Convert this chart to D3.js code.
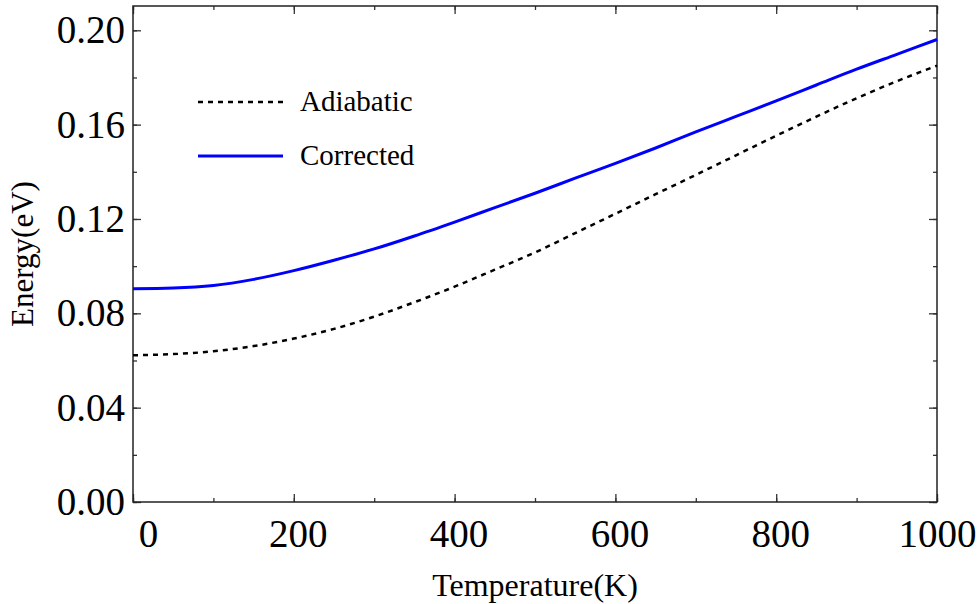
<!DOCTYPE html>
<meta charset="utf-8">
<head>
<script src="https://d3js.org/d3.v7.min.js"></script>
<style>
  body { margin: 0; background: #fff; }
  text { font-family: "Liberation Serif", "Times New Roman", serif; fill: #000; }
</style>
</head>
<body>
<div id="chart"></div>
<script>
// data
var temps = [0, 50, 100, 150, 200, 250, 300, 350, 400, 450, 500,
             550, 600, 650, 700, 750, 800, 850, 900, 950, 1000];
var adiabatic = [0.0622, 0.0627, 0.0639, 0.0661, 0.0693, 0.0734, 0.0786, 0.0847, 0.0913, 0.0985, 0.1058,
                 0.1140, 0.1222, 0.1305, 0.1387, 0.1470, 0.1553, 0.1634, 0.1712, 0.1784, 0.1850];
var corrected = [0.0904, 0.0907, 0.0918, 0.0944, 0.0981, 0.1025, 0.1073, 0.1128, 0.1187, 0.1248, 0.1309,
                 0.1373, 0.1436, 0.1501, 0.1569, 0.1635, 0.1701, 0.1768, 0.1835, 0.1898, 0.1961];
var xTicks = [0, 200, 400, 600, 800, 1000];
var yTicks = [0.00, 0.04, 0.08, 0.12, 0.16, 0.20];

var margin = {top: 6, right: 42, bottom: 102, left: 133},
    width = 979 - margin.left - margin.right,
    height = 604 - margin.top - margin.bottom;

var svg = d3.select("#chart")
  .append("svg")
    .attr("width", 979)
    .attr("height", 604)
  .append("g")
    .attr("transform", "translate(" + margin.left + "," + margin.top + ")");

var x = d3.scaleLinear().domain([0, 1000]).range([0, width]);
var y = d3.scaleLinear().domain([0, 0.2103]).range([height, 0]);

// minor ticks every 100 K / 0.02 eV
var xMinor = d3.range(0, 1001, 100);
var yMinor = d3.range(0, 0.21, 0.02);

function tickStyle(g) {
  g.select(".domain").remove();
  g.selectAll("line").attr("stroke", "#333").attr("stroke-width", 1.3);
}

// bottom
svg.append("g")
  .attr("transform", "translate(0," + height + ")")
  .call(d3.axisBottom(x).tickValues(xMinor).tickSize(-4).tickFormat(""))
  .call(tickStyle);
svg.append("g")
  .attr("transform", "translate(0," + height + ")")
  .call(d3.axisBottom(x).tickValues(xTicks).tickSize(-8).tickPadding(17).tickFormat(d3.format("d")))
  .call(tickStyle)
  .selectAll("text")
    .style("font-size", "39px")
    .attr("x", function(d) { return d === 0 ? 15 : (d === 1000 ? 0 : 4); });
// top
svg.append("g")
  .call(d3.axisTop(x).tickValues(xMinor).tickSize(-4).tickFormat(""))
  .call(tickStyle);
svg.append("g")
  .call(d3.axisTop(x).tickValues(xTicks).tickSize(-8).tickFormat(""))
  .call(tickStyle);
// left
svg.append("g")
  .call(d3.axisLeft(y).tickValues(yMinor).tickSize(-4).tickFormat(""))
  .call(tickStyle);
svg.append("g")
  .call(d3.axisLeft(y).tickValues(yTicks).tickSize(-8).tickPadding(8).tickFormat(d3.format(".2f")))
  .call(tickStyle)
  .selectAll("text")
    .style("font-size", "39px");
// right
svg.append("g")
  .attr("transform", "translate(" + width + ",0)")
  .call(d3.axisRight(y).tickValues(yMinor).tickSize(-4).tickFormat(""))
  .call(tickStyle);
svg.append("g")
  .attr("transform", "translate(" + width + ",0)")
  .call(d3.axisRight(y).tickValues(yTicks).tickSize(-8).tickFormat(""))
  .call(tickStyle);

// frame
svg.append("rect")
  .attr("width", width)
  .attr("height", height)
  .attr("fill", "none")
  .attr("stroke", "#222")
  .attr("stroke-width", 1.5);

var line = d3.line()
  .curve(d3.curveMonotoneX)
  .x(function(d) { return x(d[0]); })
  .y(function(d) { return y(d[1]); });

svg.append("path")
  .datum(d3.zip(temps, adiabatic))
  .attr("d", line)
  .attr("fill", "none")
  .attr("stroke", "#000")
  .attr("stroke-width", 2.5)
  .attr("stroke-dasharray", "5,5");

svg.append("path")
  .datum(d3.zip(temps, corrected))
  .attr("d", line)
  .attr("fill", "none")
  .attr("stroke", "#0000ff")
  .attr("stroke-width", 3);

// legend
var legend = [
  {name: "Adiabatic", color: "#000", dash: "5,5", w: 2.5, y: 96},
  {name: "Corrected", color: "#0000ff", dash: null, w: 3, y: 150}
];
legend.forEach(function(l) {
  svg.append("line")
    .attr("x1", 65).attr("x2", 150)
    .attr("y1", l.y).attr("y2", l.y)
    .attr("stroke", l.color)
    .attr("stroke-width", l.w)
    .attr("stroke-dasharray", l.dash);
  svg.append("text")
    .attr("x", 167)
    .attr("y", l.y + 9)
    .style("font-size", "29px")
    .text(l.name);
});

// axis titles
svg.append("text")
  .attr("x", width / 2)
  .attr("y", height + 94)
  .attr("text-anchor", "middle")
  .style("font-size", "32px")
  .text("Temperature(K)");

svg.append("text")
  .attr("transform", "rotate(-90)")
  .attr("x", -(254 - margin.top))
  .attr("y", -100)
  .attr("text-anchor", "middle")
  .style("font-size", "31px")
  .text("Energy(eV)");
</script>
</body>
